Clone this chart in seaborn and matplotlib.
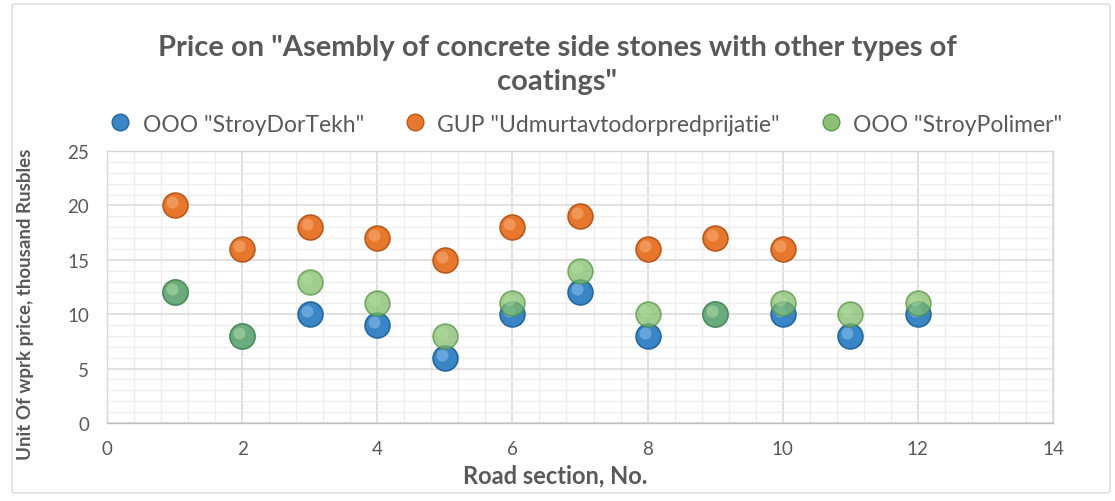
import numpy as np
import pandas as pd
import matplotlib
matplotlib.use("Agg")
import matplotlib.pyplot as plt
import matplotlib.transforms as mtransforms
from matplotlib.patches import FancyBboxPatch
from matplotlib.ticker import MultipleLocator
from matplotlib.lines import Line2D
import seaborn as sns

# ---- data ----
sections_a = [1, 2, 3, 4, 5, 6, 7, 8, 9, 10, 11, 12]
stroydortekh = [12, 8, 10, 9, 6, 10, 12, 8, 10, 10, 8, 10]
sections_b = [1, 2, 3, 4, 5, 6, 7, 8, 9, 10]
udmurt = [20, 16, 18, 17, 15, 18, 19, 16, 17, 16]
sections_c = [1, 2, 3, 4, 5, 6, 7, 8, 9, 10, 11, 12]
stroypolimer = [12, 8, 13, 11, 8, 11, 14, 10, 10, 11, 10, 11]

series_names = ['OOO "StroyDorTekh"', 'GUP "Udmurtavtodorpredprijatie"', 'OOO "StroyPolimer"']
title = 'Price on "Asembly of concrete side stones with other types of\ncoatings"'
xlabel = "Road section, No."
ylabel = "Unit Of wprk price, thousand Rusbles"

sns.set_theme(style="white")
plt.rcParams['font.family'] = ['Lato', 'DejaVu Sans']

fig = plt.figure(figsize=(11.15, 5.02), dpi=100)
ax = fig.add_axes([107/1115, 1-424/502, (1053-107)/1115, (424-152)/502])

df = pd.concat([
    pd.DataFrame({"x": sections_a, "y": stroydortekh, "s": series_names[0]}),
    pd.DataFrame({"x": sections_b, "y": udmurt, "s": series_names[1]}),
    pd.DataFrame({"x": sections_c, "y": stroypolimer, "s": series_names[2]}),
], ignore_index=True)

base = {series_names[0]: "#3A85C6", series_names[1]: "#E8772E", series_names[2]: "#7DBB66"}
edge = {series_names[0]: "#24679F", series_names[1]: "#B85A1D", series_names[2]: "#559244"}
hi = {series_names[0]: "#8CC3EC", series_names[1]: "#F7B07A", series_names[2]: "#B7E0A4"}
alphas = {series_names[0]: 1.0, series_names[1]: 1.0, series_names[2]: 0.72}

hl = mtransforms.offset_copy(ax.transData, fig=fig, x=-3, y=3, units='dots')
for i, name in enumerate(series_names):
    sub = df[df.s == name]
    sns.scatterplot(data=sub, x="x", y="y", ax=ax, s=320, color=base[name],
                    edgecolor=edge[name], linewidth=1.2, alpha=alphas[name],
                    zorder=3 + i * 2, legend=False)
    ax.scatter(sub.x, sub.y, s=75, color=hi[name], alpha=0.55 * alphas[name],
               linewidths=0, transform=hl, zorder=4 + i * 2)

ax.set_xlim(0, 14)
ax.set_ylim(0, 25)
ax.xaxis.set_major_locator(MultipleLocator(2))
ax.xaxis.set_minor_locator(MultipleLocator(0.4))
ax.yaxis.set_major_locator(MultipleLocator(5))
ax.yaxis.set_minor_locator(MultipleLocator(1))
ax.grid(which="major", color="#D9D9D9", linewidth=1.1, zorder=0)
ax.grid(which="minor", color="#EDEDED", linewidth=0.9, zorder=0)
ax.set_axisbelow(True)
for sp in ax.spines.values():
    sp.set_color("#D9D9D9")
    sp.set_linewidth(1)
ax.spines["bottom"].set_color("#BFBFBF")
ax.tick_params(which="both", length=0, labelsize=13.5, colors="#595959")
ax.tick_params(axis="x", pad=12)
ax.tick_params(axis="y", pad=13)

ax.set_xlabel(xlabel, fontsize=17, fontweight="bold", color="#595959")
ax.set_ylabel(ylabel, fontsize=13.5, fontweight="bold", color="#595959")
ax.xaxis.set_label_coords((555-107)/(1053-107), -0.15)
ax.yaxis.set_label_coords(-0.077, 0.44)

fig.text(0.5, 1-65/502, title, ha="center", va="center", fontsize=21,
         fontweight="bold", color="#595959", linespacing=1.4)

handles = [Line2D([0], [0], marker="o", linestyle="", markersize=12,
                  markerfacecolor=base[n], markeredgecolor=edge[n], alpha=alphas[n] if i < 2 else 0.9)
           for i, n in enumerate(series_names)]
fig.legend(handles, series_names, loc="center", bbox_to_anchor=(0.52, 1-125/502),
           ncol=3, frameon=False, fontsize=16.5, handletextpad=0.0, columnspacing=1.2,
           labelcolor="#595959")

border = FancyBboxPatch((12/1115, 8/502), (1110-12)/1115, (497-8)/502,
                        boxstyle="round,pad=0,rounding_size=0.004", transform=fig.transFigure,
                        fill=False, edgecolor="#D9D9D9", linewidth=1)
fig.patches.append(border)

fig.savefig("out.png", dpi=100)
